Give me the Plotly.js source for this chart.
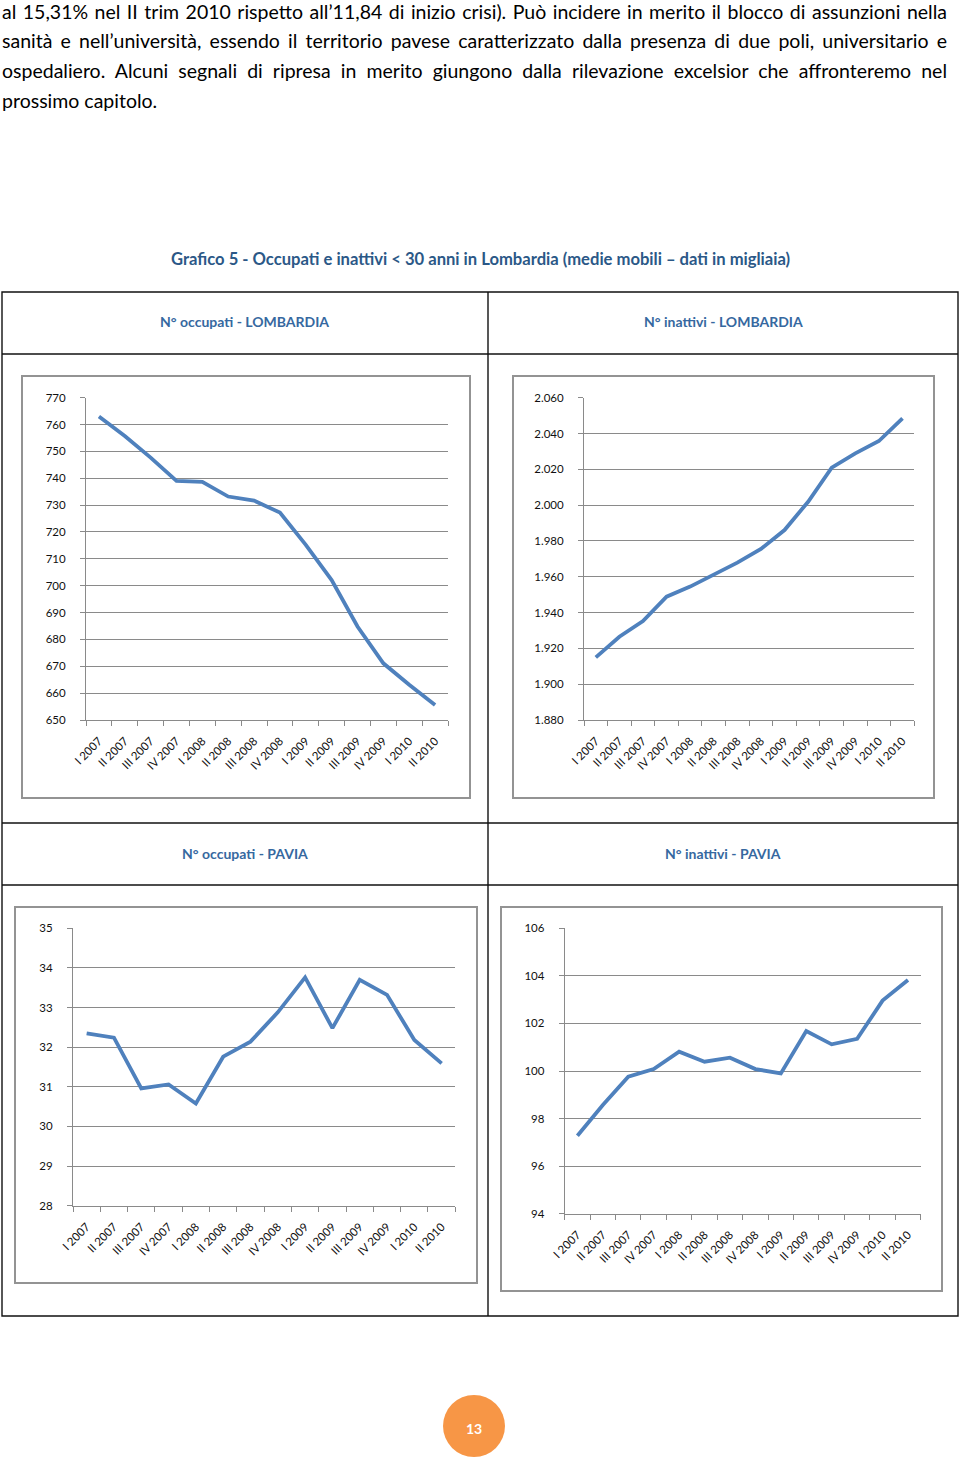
<!DOCTYPE html>
<html>
<head>
<meta charset="utf-8">
<script src="https://cdn.plot.ly/plotly-3.0.1.min.js"></script>
<style>
  html, body { margin: 0; padding: 0; background: #fff; }
  #page { position: relative; width: 960px; height: 1461px; overflow: hidden; }
  #chart { position: absolute; left: 0; top: 0; width: 960px; height: 1461px; }
  #para { position: absolute; left: 2px; top: 1px; width: 945px; font-family: Lato, "Open Sans", sans-serif; font-size: 19.5px; line-height: 30px; color: #000; z-index: 5; }
  #para div { white-space: normal; }
  #para .first { line-height: 22px; margin-bottom: 3px; }
  #para .j { text-align: justify; text-align-last: justify; }
</style>
</head>
<body>
<div id="page">
  <div id="chart"></div>
  <div id="para">
    <div class="j first">al 15,31% nel II trim 2010 rispetto all’11,84 di inizio crisi). Può incidere in merito il blocco di assunzioni nella</div>
    <div class="j">sanità e nell’università, essendo il territorio pavese caratterizzato dalla presenza di due poli, universitario e</div>
    <div class="j">ospedaliero. Alcuni segnali di ripresa in merito giungono dalla rilevazione excelsior che affronteremo nel</div>
    <div>prossimo capitolo.</div>
  </div>
</div>
<script>
// ---- data ----
const categories = ["I 2007","II 2007","III 2007","IV 2007","I 2008","II 2008","III 2008","IV 2008","I 2009","II 2009","III 2009","IV 2009","I 2010","II 2010"];
const occupatiLombardia = [763, 755.7, 747.7, 739.0, 738.7, 733.2, 731.7, 727.2, 715.2, 702.1, 684.8, 671.1, 663.1, 655.6];
const inattiviLombardia = [1915, 1926.5, 1935.3, 1948.9, 1954.5, 1961.0, 1967.9, 1975.5, 1986.1, 2001.9, 2020.9, 2028.9, 2035.8, 2048.5];
const occupatiPavia = [32.35, 32.24, 30.96, 31.06, 30.58, 31.76, 32.14, 32.88, 33.76, 32.48, 33.70, 33.32, 32.18, 31.59];
const inattiviPavia = [97.28, 98.57, 99.76, 100.08, 100.81, 100.39, 100.56, 100.08, 99.90, 101.68, 101.12, 101.35, 102.96, 103.83];

const mainTitle = "Grafico 5 - Occupati e inattivi < 30 anni in Lombardia (medie mobili – dati in migliaia)";
const panelTitles = ["N° occupati - LOMBARDIA", "N° inattivi - LOMBARDIA", "N° occupati - PAVIA", "N° inattivi - PAVIA"];
const pageNumber = "13";

// ---- layout helpers ----
const W = 960, H = 1461;
const px = v => v / W;
const py = v => 1 - v / H;

const FONT = "Lato, 'Open Sans', sans-serif";
const LINE = "#4F81BD";
const GRID = "#8a8a8a";

const panels = [
  {y: occupatiLombardia, x0: 86, x1: 448, y0: 397.7, y1: 720, range: [650, 770], dtick: 10, sep: false},
  {y: inattiviLombardia, x0: 584, x1: 914.3, y0: 397.7, y1: 720, range: [1880, 2060], dtick: 20, sep: true},
  {y: occupatiPavia, x0: 73, x1: 455.3, y0: 928.3, y1: 1205.7, range: [28, 35], dtick: 1, sep: false},
  {y: inattiviPavia, x0: 564.7, x1: 920.7, y0: 928.3, y1: 1213.7, range: [94, 106], dtick: 2, sep: false}
];

const traces = [];
const layout = {
  width: W, height: H,
  margin: {l: 0, r: 0, t: 0, b: 0},
  paper_bgcolor: "#fff",
  plot_bgcolor: "rgba(0,0,0,0)",
  showlegend: false,
  separators: ",.",
  font: {family: FONT, color: "#111"},
  shapes: [],
  annotations: []
};

panels.forEach((p, i) => {
  const n = i + 1;
  const xa = n === 1 ? "xaxis" : "xaxis" + n;
  const ya = n === 1 ? "yaxis" : "yaxis" + n;
  traces.push({
    type: "scatter", mode: "lines",
    x: categories, y: p.y,
    xaxis: "x" + (n === 1 ? "" : n), yaxis: "y" + (n === 1 ? "" : n),
    line: {color: LINE, width: 3.8},
    hoverinfo: "skip"
  });
  layout[xa] = {
    type: "category",
    domain: [px(p.x0), px(p.x1)],
    anchor: "y" + (n === 1 ? "" : n),
    range: [-0.5, categories.length - 0.5],
    showgrid: false, zeroline: false,
    showline: true, linecolor: GRID, linewidth: 1,
    ticks: "outside", tickson: "boundaries", ticklen: 5, tickcolor: GRID, tickwidth: 1,
    tickangle: -45,
    ticklabelstandoff: 9,
    tickfont: {family: FONT, size: 11.5, color: "#111"},
    fixedrange: true
  };
  layout[ya] = {
    domain: [py(p.y1), py(p.y0)],
    anchor: "x" + (n === 1 ? "" : n),
    range: p.range, dtick: p.dtick, tick0: p.range[0],
    separatethousands: p.sep,
    showgrid: true, gridcolor: GRID, gridwidth: 1,
    zeroline: false,
    showline: true, linecolor: GRID, linewidth: 1,
    ticks: "outside", ticklen: 5, tickcolor: GRID, tickwidth: 1,
    ticklabelstandoff: 12,
    tickfont: {family: FONT, size: 11.5, color: "#111"},
    fixedrange: true
  };
});

// table lines
const tbl = {color: "#111", width: 1.4};
layout.shapes.push({type: "rect", xref: "paper", yref: "paper", x0: px(2), x1: px(958), y0: py(292), y1: py(1316), line: tbl});
[354, 823, 885].forEach(yy => layout.shapes.push({type: "line", xref: "paper", yref: "paper", x0: px(2), x1: px(958), y0: py(yy), y1: py(yy), line: tbl}));
layout.shapes.push({type: "line", xref: "paper", yref: "paper", x0: px(488), x1: px(488), y0: py(292), y1: py(1316), line: tbl});

// chart frames
[[22, 376, 470, 798], [513, 376, 934, 798], [15, 907, 477, 1283], [501, 907, 942, 1291]].forEach(f => {
  layout.shapes.push({type: "rect", xref: "paper", yref: "paper", x0: px(f[0]), x1: px(f[2]), y0: py(f[1]), y1: py(f[3]), line: {color: "#939393", width: 2}});
});

// page number circle
layout.shapes.push({type: "circle", xref: "paper", yref: "paper", x0: px(443), x1: px(505), y0: py(1395), y1: py(1457), fillcolor: "#F79646", line: {width: 0}});

// texts
layout.annotations.push({xref: "paper", yref: "paper", x: px(480), y: py(259), text: "<b>" + mainTitle.replace("<", "&lt;") + "</b>", showarrow: false, xanchor: "center", yanchor: "middle", font: {family: FONT, size: 16.6, color: "#2B5887"}});
const hdrPos = [[245, 322], [723, 322], [245, 853], [723, 853]];
panelTitles.forEach((t, i) => {
  layout.annotations.push({xref: "paper", yref: "paper", x: px(hdrPos[i][0]), y: py(hdrPos[i][1]), text: "<b>" + t + "</b>", showarrow: false, xanchor: "center", yanchor: "middle", font: {family: FONT, size: 14, color: "#3668A0"}});
});
layout.annotations.push({xref: "paper", yref: "paper", x: px(474), y: py(1428), text: "<b>" + pageNumber + "</b>", showarrow: false, xanchor: "center", yanchor: "middle", font: {family: FONT, size: 14, color: "#fff"}});

Plotly.newPlot("chart", traces, layout, {staticPlot: true, displayModeBar: false});
</script>
</body>
</html>
